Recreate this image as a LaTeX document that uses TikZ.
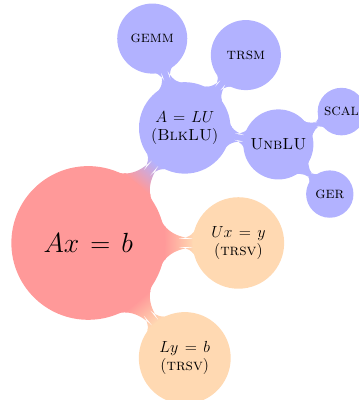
\documentclass[tikz,border=0pt]{standalone}
\usetikzlibrary{mindmap,backgrounds,calc}
\begin{document}
\begin{tikzpicture}[mindmap, text=black,
  rootc/.style={concept, concept color=red!40, minimum size=4cm, text width=3.6cm, align=center, font=\huge},
  lonec/.style={concept, minimum size=2.26cm, text width=2.1cm, align=center, font=\large},
  ltwoc/.style={concept, concept color=blue!30, minimum size=1.8cm, text width=1.6cm, align=center, font=\large},
  lthreec/.style={concept, concept color=blue!30, minimum size=1.18cm, text width=1.1cm, align=center, font=\large}]
\useasboundingbox (-2.32,-4.13) rectangle (7.10,6.39);
\node[rootc] (root) at (0,0) {$Ax = b$};
\node[lonec, concept color=blue!30] (alu) at (50:3.95) {$A = LU$\\(\textsc{BlkLU})};
\node[lonec, concept color=orange!30] (ux) at (0:3.95) {$Ux = y$\\(\textsc{trsv})};
\node[lonec, concept color=orange!30] (ly) at (-50:3.95) {$Ly = b$\\(\textsc{trsv})};
\node[ltwoc] (gemm) at ($(alu)+(110:2.5)$) {\textsc{gemm}};
\node[ltwoc] (trsm) at ($(alu)+(50:2.5)$) {\textsc{trsm}};
\node[ltwoc] (unb) at ($(alu)+(-10:2.5)$) {\textsc{UnbLU}};
\node[lthreec] (scal) at ($(unb)+(27.5:1.87)$) {\textsc{scal}};
\node[lthreec] (ger) at ($(unb)+(-44:1.88)$) {\textsc{ger}};
\begin{pgfonlayer}{background}
\path (root) to[circle connection bar switch color=from (red!40) to (blue!30)] (alu);
\path (root) to[circle connection bar switch color=from (red!40) to (orange!30)] (ux);
\path (root) to[circle connection bar switch color=from (red!40) to (orange!30)] (ly);
\path (alu) to[circle connection bar switch color=from (blue!30) to (blue!30)] (gemm);
\path (alu) to[circle connection bar switch color=from (blue!30) to (blue!30)] (trsm);
\path (alu) to[circle connection bar switch color=from (blue!30) to (blue!30)] (unb);
\path (unb) to[circle connection bar switch color=from (blue!30) to (blue!30)] (scal);
\path (unb) to[circle connection bar switch color=from (blue!30) to (blue!30)] (ger);
\end{pgfonlayer}
\end{tikzpicture}
\end{document}
